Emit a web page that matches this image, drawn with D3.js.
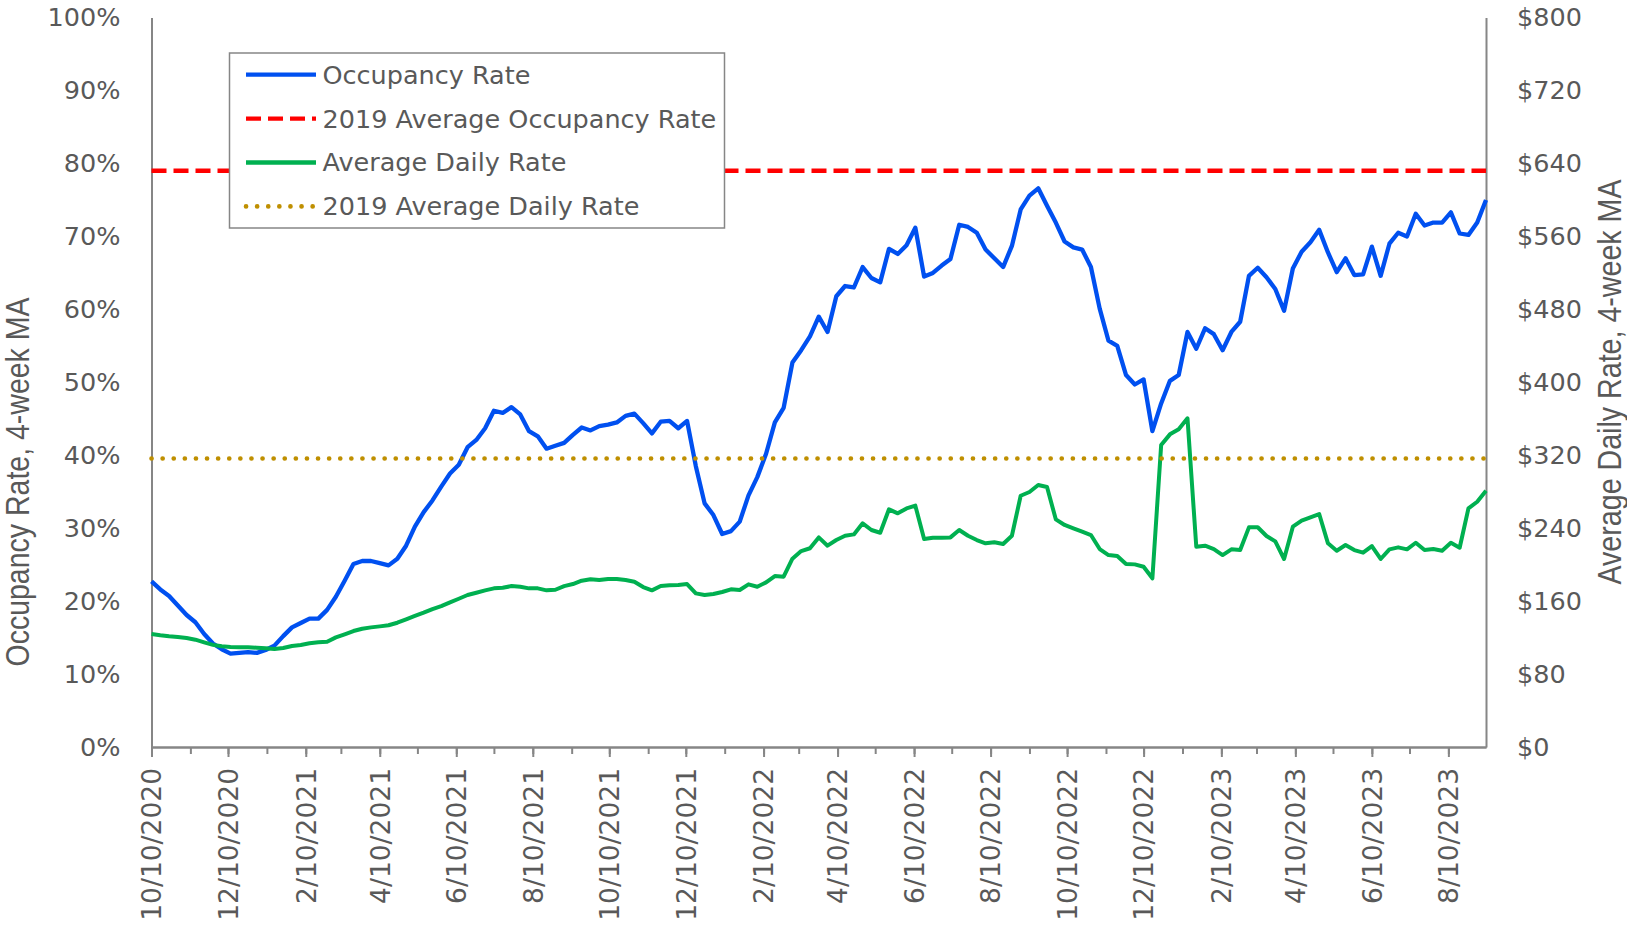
<!DOCTYPE html>
<html>
<head>
<meta charset="utf-8">
<script src="https://cdn.jsdelivr.net/npm/d3@7"></script>
<style>
  body { margin: 0; background: #fff; }
  svg { display: block; }
  .tick text { fill: #595959; font-family: "DejaVu Sans", Verdana, sans-serif; font-size: 25.5px; }
  .title { fill: #595959; font-family: "Liberation Sans", Arial, sans-serif; font-size: 33px; }
  .legend text { fill: #595959; font-family: "DejaVu Sans", Verdana, sans-serif; font-size: 25.5px; }
</style>
</head>
<body>
<svg width="1627" height="927"></svg>
<script>
// weekly 4-week moving averages, first week 10/10/2020
const startDate = '10/10/2020'

const occupancy = [
  22.7, 21.6, 20.7, 19.4, 18.1, 17.1, 15.5, 14.2, 13.4, 12.8,
  12.9, 13.0, 12.9, 13.3, 13.9, 15.2, 16.4, 17.0, 17.6, 17.6,
  18.8, 20.6, 22.8, 25.1, 25.5, 25.5, 25.2, 24.9, 25.8, 27.6,
  30.2, 32.2, 33.8, 35.7, 37.5, 38.7, 41.1, 42.1, 43.7, 46.1,
  45.8, 46.6, 45.6, 43.3, 42.6, 40.9, 41.3, 41.7, 42.8, 43.8,
  43.4, 44.0, 44.2, 44.5, 45.4, 45.7, 44.4, 43.0, 44.6, 44.7,
  43.7, 44.7, 38.5, 33.4, 31.8, 29.2, 29.6, 30.9, 34.5, 37.0,
  40.2, 44.5, 46.5, 52.7, 54.4, 56.3, 59.0, 56.9, 61.8, 63.2,
  63.0, 65.8, 64.3, 63.7, 68.3, 67.6, 68.8, 71.2, 64.5, 65.0,
  66.0, 66.9, 71.6, 71.3, 70.5, 68.2, 67.0, 65.8, 68.7, 73.7,
  75.6, 76.6, 74.2, 71.9, 69.3, 68.5, 68.2, 65.8, 60.1, 55.7,
  55.0, 51.0, 49.7, 50.4, 43.3, 47.1, 50.2, 51.0, 56.9, 54.6,
  57.4, 56.6, 54.4, 56.9, 58.3, 64.6, 65.7, 64.4, 62.8, 59.8,
  65.6, 67.9, 69.2, 70.9, 67.8, 65.1, 67.0, 64.7, 64.8, 68.6,
  64.6, 69.0, 70.5, 70.0, 73.1, 71.5, 71.9, 71.9, 73.3, 70.4,
  70.2, 71.9, 75.0
]

const dailyRate = [
  124.0, 122.5, 121.4, 120.6, 119.5, 117.7, 114.8, 112.0, 110.4, 109.7,
  109.3, 109.3, 108.9, 108.2, 107.5, 108.6, 110.8, 111.9, 113.7, 114.8,
  115.5, 120.2, 123.6, 127.2, 129.7, 131.2, 132.3, 133.5, 136.3, 140.0,
  143.7, 147.3, 151.3, 154.6, 158.7, 162.6, 166.7, 169.2, 171.8, 174.0,
  174.7, 176.5, 175.8, 174.0, 174.0, 171.8, 172.5, 176.5, 178.7, 182.4,
  183.9, 183.1, 184.2, 184.2, 183.1, 181.3, 175.4, 171.8, 176.5, 177.3,
  177.7, 178.7, 168.5, 166.7, 167.8, 170.0, 172.9, 172.2, 178.4, 175.8,
  180.6, 187.5, 186.8, 206.5, 214.9, 218.0, 229.9, 220.8, 227.0, 231.7,
  233.2, 245.3, 238.0, 235.0, 260.7, 256.3, 261.7, 264.7, 228.1, 229.5,
  229.5, 229.9, 238.0, 231.7, 227.0, 223.4, 224.5, 222.6, 231.7, 275.6,
  279.7, 287.3, 285.1, 249.7, 243.5, 239.8, 236.1, 232.5, 217.1, 210.5,
  209.4, 200.7, 200.3, 197.7, 185.0, 331.2, 342.9, 348.4, 360.5, 219.7,
  220.8, 217.1, 210.5, 216.8, 216.0, 240.9, 241.0, 231.4, 225.5, 206.2,
  241.6, 248.2, 251.8, 255.5, 223.4, 215.3, 221.5, 216.0, 213.1, 220.4,
  206.2, 216.8, 219.0, 216.8, 224.0, 216.0, 217.1, 215.3, 224.0, 218.6,
  261.7, 269.0, 281.1
]

const avgOccupancy2019 = 79.0
const avgDailyRate2019 = 316.5

const xTickLabels = [
  '10/10/2020', '12/10/2020', '2/10/2021', '4/10/2021', '6/10/2021', '8/10/2021',
  '10/10/2021', '12/10/2021', '2/10/2022', '4/10/2022', '6/10/2022', '8/10/2022',
  '10/10/2022', '12/10/2022', '2/10/2023', '4/10/2023', '6/10/2023', '8/10/2023'
]
const occTicks = [0, 10, 20, 30, 40, 50, 60, 70, 80, 90, 100]
const rateTicks = [0, 80, 160, 240, 320, 400, 480, 560, 640, 720, 800]

const legendItems = [
  { name: 'Occupancy Rate', color: '#0050F0', dash: null, cap: 'butt' },
  { name: '2019 Average Occupancy Rate', color: '#FF0000', dash: '15 7', cap: 'butt' },
  { name: 'Average Daily Rate', color: '#00B050', dash: null, cap: 'butt' },
  { name: '2019 Average Daily Rate', color: '#BF8F00', dash: '0.1 11', cap: 'round' }
]

const svg = d3.select('svg')
const parse = d3.utcParse('%m/%d/%Y')
const fmt = d3.utcFormat('%-m/%-d/%Y')

const t0 = parse(startDate)
const dates = occupancy.map((d, i) => d3.utcDay.offset(t0, i * 7))

const plotL = 151.5, plotR = 1486, plotT = 17.6, plotB = 747

const x = d3.scaleUtc().domain([dates[0], dates[dates.length - 1]]).range([plotL, plotR])
const y = d3.scaleLinear().domain([0, 100]).range([plotB, plotT])
const yR = d3.scaleLinear().domain([0, 800]).range([plotB, plotT])

// minor ticks every month on the 10th
const minorTicks = d3.utcMonth.range(d3.utcMonth.floor(dates[0]), dates[dates.length - 1])
  .map(d => d3.utcDay.offset(d, 9))
  .filter(d => d >= dates[0] && d <= dates[dates.length - 1])
const majorTicks = xTickLabels.map(parse)

const axisColor = '#868686'

// y axes
const gL = svg.append('g').attr('transform', `translate(${plotL},0)`)
  .call(d3.axisLeft(y).tickValues(occTicks).tickSize(0).tickPadding(31).tickFormat(d => d + '%'))
const gR = svg.append('g').attr('transform', `translate(${plotR},0)`)
  .call(d3.axisRight(yR).tickValues(rateTicks).tickSize(0).tickPadding(31).tickFormat(d => '$' + d))

// x axis: minor + major ticks
const gMinor = svg.append('g').attr('transform', `translate(0,${plotB})`)
  .call(d3.axisBottom(x).tickValues(minorTicks).tickSize(7).tickSizeOuter(0).tickFormat(''))
const gX = svg.append('g').attr('transform', `translate(0,${plotB})`)
  .call(d3.axisBottom(x).tickValues(majorTicks).tickSize(10).tickSizeOuter(0).tickFormat(fmt))

gX.selectAll('.tick text')
  .attr('transform', 'rotate(-90)')
  .attr('text-anchor', 'end')
  .attr('x', -21)
  .attr('y', 0)
  .attr('dy', '0.35em')
  .style('font-size', '26.5px')

for (const g of [gL, gR, gMinor, gX]) {
  g.select('.domain').attr('stroke', axisColor).attr('stroke-width', 2)
  g.selectAll('.tick line').attr('stroke', axisColor).attr('stroke-width', 2)
  g.attr('font-family', null).attr('font-size', null)
}

// reference lines
svg.append('line')
  .attr('x1', plotL).attr('x2', plotR)
  .attr('y1', y(avgOccupancy2019)).attr('y2', y(avgOccupancy2019))
  .attr('stroke', '#FF0000').attr('stroke-width', 4.5).attr('stroke-dasharray', '15 7')

const lineOcc = d3.line().x((d, i) => x(dates[i])).y(d => y(d))
const lineRate = d3.line().x((d, i) => x(dates[i])).y(d => yR(d))

svg.append('path').datum(occupancy)
  .attr('d', lineOcc).attr('fill', 'none')
  .attr('stroke', '#0050F0').attr('stroke-width', 4.3).attr('stroke-linejoin', 'round')

svg.append('path').datum(dailyRate)
  .attr('d', lineRate).attr('fill', 'none')
  .attr('stroke', '#00B050').attr('stroke-width', 4).attr('stroke-linejoin', 'round')

svg.append('line')
  .attr('x1', plotL).attr('x2', plotR)
  .attr('y1', yR(avgDailyRate2019)).attr('y2', yR(avgDailyRate2019))
  .attr('stroke', '#BF8F00').attr('stroke-width', 4.6)
  .attr('stroke-dasharray', '0.1 11').attr('stroke-linecap', 'round')

// axis titles
svg.append('text').attr('class', 'title')
  .attr('transform', 'translate(17,482) rotate(-90)')
  .attr('text-anchor', 'middle').attr('dominant-baseline', 'central')
  .attr('textLength', 369).attr('lengthAdjust', 'spacingAndGlyphs')
  .text('Occupancy Rate, 4-week MA')
svg.append('text').attr('class', 'title')
  .attr('transform', 'translate(1609,382) rotate(-90)')
  .attr('text-anchor', 'middle').attr('dominant-baseline', 'central')
  .attr('textLength', 405).attr('lengthAdjust', 'spacingAndGlyphs')
  .text('Average Daily Rate, 4-week MA')

// legend
const legend = svg.append('g').attr('class', 'legend')
legend.append('rect')
  .attr('x', 229.5).attr('y', 53).attr('width', 495).attr('height', 175)
  .attr('fill', '#fff').attr('stroke', axisColor).attr('stroke-width', 1.5)

const rows = legend.selectAll('g.row').data(legendItems).enter().append('g')
  .attr('class', 'row')
  .attr('transform', (d, i) => `translate(0,${74.7 + i * 43.9})`)
rows.append('line')
  .attr('x1', 246).attr('x2', 316)
  .attr('stroke', d => d.color)
  .attr('stroke-width', d => d.cap === 'round' ? 4.6 : 4.3)
  .attr('stroke-dasharray', d => d.dash)
  .attr('stroke-linecap', d => d.cap)
rows.append('text')
  .attr('x', 322.5).attr('dy', '0.35em')
  .text(d => d.name)
</script>
</body>
</html>
